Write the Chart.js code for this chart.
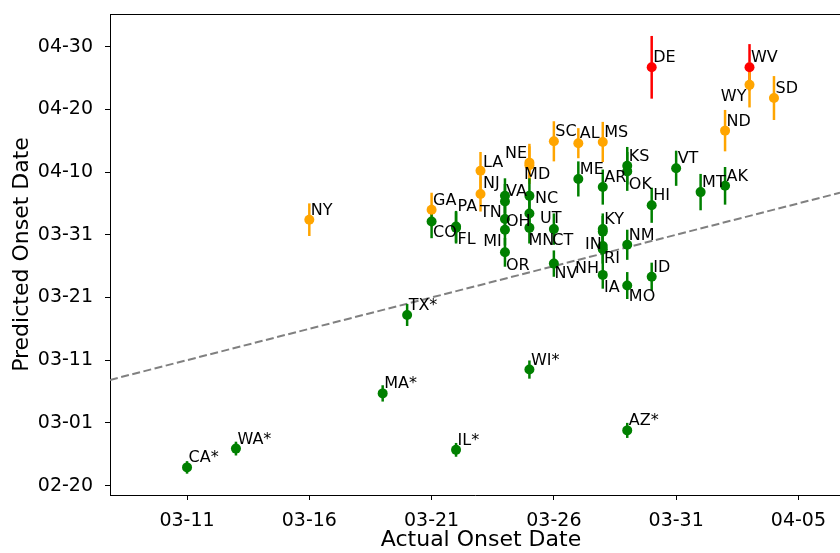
<!DOCTYPE html>
<html>
<head>
<meta charset="utf-8">
<title>Predicted vs Actual Onset Date</title>
<script src="https://cdn.jsdelivr.net/npm/chart.js@4.4.1/dist/chart.umd.min.js"></script>
<style>
  html, body { margin: 0; padding: 0; background: #fff; }
  canvas { display: block; }
</style>
</head>
<body>
<canvas id="graficoOnset" width="840" height="553"></canvas>
<script>
// datas em "dia do ano" de 2020 (01-01 = 1, 03-11 = 71)
const states = [
  "CA*", "WA*", "NY", "MA*", "TX*", "GA", "CO", "PA", "FL", "IL*",
  "LA", "NJ", "VA", "TN", "OH", "MI", "OR", "NE", "MD", "NC",
  "UT", "MN", "WI*", "SC", "CT", "NV", "AL", "ME", "MS", "AR",
  "KY", "IN", "RI", "NH", "IA", "KS", "OK", "NM", "MO", "AZ*",
  "DE", "HI", "ID", "VT", "MT", "ND", "AK", "WV", "WY", "SD"
];
const actualDay = [
  71, 73, 76, 79, 80, 81, 81, 82, 82, 82,
  83, 83, 84, 84, 84, 84, 84, 85, 85, 85,
  85, 85, 85, 86, 86, 86, 87, 87, 88, 88,
  88, 88, 88, 88, 88, 89, 89, 89, 89, 89,
  90, 90, 90, 91, 92, 93, 93, 94, 94, 95
];
const predictedDay = [
  53.9, 56.9, 93.4, 65.7, 78.2, 95.0, 93.1, 92.3, 92.1, 56.7,
  101.2, 97.5, 97.2, 96.3, 93.5, 91.8, 88.2, 102.5, 102.1, 97.2,
  94.4, 92.1, 69.5, 105.9, 91.9, 86.4, 105.6, 99.9, 105.8, 98.6,
  91.9, 91.5, 89.2, 88.7, 84.6, 102.0, 101.1, 89.4, 82.9, 59.8,
  117.7, 95.7, 84.3, 101.6, 97.8, 107.6, 98.8, 117.7, 114.9, 112.8
];
// meia largura da barra de erro, em dias
const predictedErr = [
  1.0, 1.1, 2.6, 1.3, 1.75, 2.7, 2.65, 2.5, 2.5, 1.1,
  3.0, 2.8, 2.8, 2.8, 2.6, 2.5, 2.3, 3.0, 3.0, 2.8,
  2.6, 2.5, 1.45, 3.2, 2.5, 2.1, 2.4, 2.8, 3.2, 2.8,
  2.5, 2.5, 2.4, 2.3, 2.2, 3.0, 3.1, 2.4, 2.15, 1.2,
  5.0, 2.8, 2.25, 2.8, 2.9, 3.3, 3.0, 3.7, 3.6, 3.5
];
const redStates = ["DE", "WV"];
const orangeStates = ["NY", "GA", "LA", "NJ", "NE", "MD", "SC", "AL", "MS", "ND", "WY", "SD"];

const xTicks = [71, 76, 81, 86, 91, 96];
const yTicks = [51, 61, 71, 81, 91, 101, 111, 121];
const X_MIN = 67.85, X_MAX = 97.7;
const Y_MIN = 49.5, Y_MAX = 126.2;

// posição dos rótulos (px relativos ao ponto), padrão = acima à direita
const labelOffsetDefault = [1.5, -5];
const labelOffsets = {
  CO: [1.5, 15.5], PA: [1.5, -16], FL: [1.5, 16], LA: [2.5, -3.5], NJ: [2.5, -6],
  TN: [-25, 15], VA: [1, 0.3], OH: [1, 6.7], MI: [-21.7, 16.7], OR: [1, 17.7],
  NE: [-24.3, -4.2], MD: [-5.3, 13.5], NC: [5.7, 6.7], UT: [10.7, 10], MN: [-1, 17.3],
  CT: [-1.6, 16], NV: [0.7, 14.5], OK: [1.6, 17.6], IN: [-17.7, 17], RI: [1.3, 17.3],
  NH: [-27.7, 23.8], IA: [1.3, 16.7], MO: [1.6, 15.7], WY: [-28.7, 15.7]
};

const FONT = "'DejaVu Sans', 'Liberation Sans', sans-serif";

function corDoEstado(nome) {
  if (redStates.includes(nome)) return "#ff0000";
  if (orangeStates.includes(nome)) return "#ffa500";
  return "#008000";
}

function formataData(doy) {
  const d = new Date(2020, 0, doy);
  const mm = String(d.getMonth() + 1).padStart(2, "0");
  const dd = String(d.getDate()).padStart(2, "0");
  return `${mm}-${dd}`;
}

const cores = states.map(corDoEstado);

const errorBars = {
  id: "errorBars",
  beforeDatasetDraw(chart, args) {
    if (args.index !== 1) return;
    const { ctx, scales } = chart;
    ctx.save();
    ctx.lineWidth = 2.5;
    states.forEach((s, i) => {
      const px = scales.x.getPixelForValue(actualDay[i]);
      const y1 = scales.y.getPixelForValue(predictedDay[i] - predictedErr[i]);
      const y2 = scales.y.getPixelForValue(predictedDay[i] + predictedErr[i]);
      ctx.strokeStyle = cores[i];
      ctx.beginPath();
      ctx.moveTo(px, y1);
      ctx.lineTo(px, y2);
      ctx.stroke();
    });
    ctx.restore();
  }
};

const stateLabels = {
  id: "stateLabels",
  afterDatasetsDraw(chart) {
    const { ctx } = chart;
    const meta = chart.getDatasetMeta(1);
    ctx.save();
    ctx.font = `16px ${FONT}`;
    ctx.fillStyle = "#000";
    ctx.textAlign = "left";
    ctx.textBaseline = "alphabetic";
    states.forEach((s, i) => {
      const p = meta.data[i];
      const off = labelOffsets[s.replace("*", "")] || labelOffsetDefault;
      ctx.fillText(s, p.x + off[0], p.y + off[1]);
    });
    ctx.restore();
  }
};

// borda superior + título do eixo x (o eixo original era um pouco mais largo que a imagem)
const frame = {
  id: "frame",
  afterDraw(chart) {
    const { ctx, chartArea } = chart;
    ctx.save();
    ctx.strokeStyle = "#000";
    ctx.lineWidth = 1;
    ctx.beginPath();
    ctx.moveTo(chartArea.left, chartArea.top + 0.5);
    ctx.lineTo(chartArea.right, chartArea.top + 0.5);
    ctx.stroke();

    ctx.font = `22px ${FONT}`;
    ctx.fillStyle = "#000";
    ctx.textAlign = "center";
    ctx.textBaseline = "alphabetic";
    ctx.fillText("Actual Onset Date", (chartArea.left + chartArea.right) / 2 + 6, chart.height - 7);
    ctx.restore();
  }
};

const eixoComum = (min, max, ticks, pad) => ({
  type: "linear",
  min, max,
  afterBuildTicks: (s) => { s.ticks = ticks.map(v => ({ value: v })); },
  ticks: {
    callback: (v) => formataData(v),
    color: "#000",
    font: { family: FONT, size: 19 },
    padding: pad,
    autoSkip: false,
    maxRotation: 0
  },
  grid: { drawOnChartArea: false, tickLength: 5, color: "#000", tickWidth: 1 },
  border: { color: "#000", width: 1 }
});

const escalaX = eixoComum(X_MIN, X_MAX, xTicks, 10);
escalaX.afterFit = (s) => { s.height = 58; s.paddingLeft = 0; s.paddingRight = 0; };

const escalaY = eixoComum(Y_MIN, Y_MAX, yTicks, 12);
escalaY.title = {
  display: true,
  text: "Predicted Onset Date",
  color: "#000",
  font: { family: FONT, size: 22, lineHeight: 1 },
  padding: { top: 11, bottom: 0 }
};
escalaY.afterFit = (s) => { s.width = 110; s.paddingTop = 0; s.paddingBottom = 0; };

new Chart(document.getElementById("graficoOnset"), {
  type: "scatter",
  data: {
    datasets: [
      {
        type: "line",
        data: [{ x: X_MIN, y: X_MIN }, { x: X_MAX, y: X_MAX }],
        borderColor: "#808080",
        borderWidth: 2,
        borderDash: [8, 3.5],
        pointRadius: 0,
        fill: false,
        order: 2
      },
      {
        data: states.map((s, i) => ({ x: actualDay[i], y: predictedDay[i] })),
        pointRadius: 5,
        pointHoverRadius: 5,
        pointBackgroundColor: cores,
        pointBorderWidth: 0,
        order: 1
      }
    ]
  },
  options: {
    responsive: false,
    animation: false,
    layout: { autoPadding: false, padding: { top: 14, right: 0, bottom: 0, left: 0 } },
    plugins: { legend: { display: false }, tooltip: { enabled: false } },
    scales: { x: escalaX, y: escalaY }
  },
  plugins: [errorBars, stateLabels, frame]
});
</script>
</body>
</html>
